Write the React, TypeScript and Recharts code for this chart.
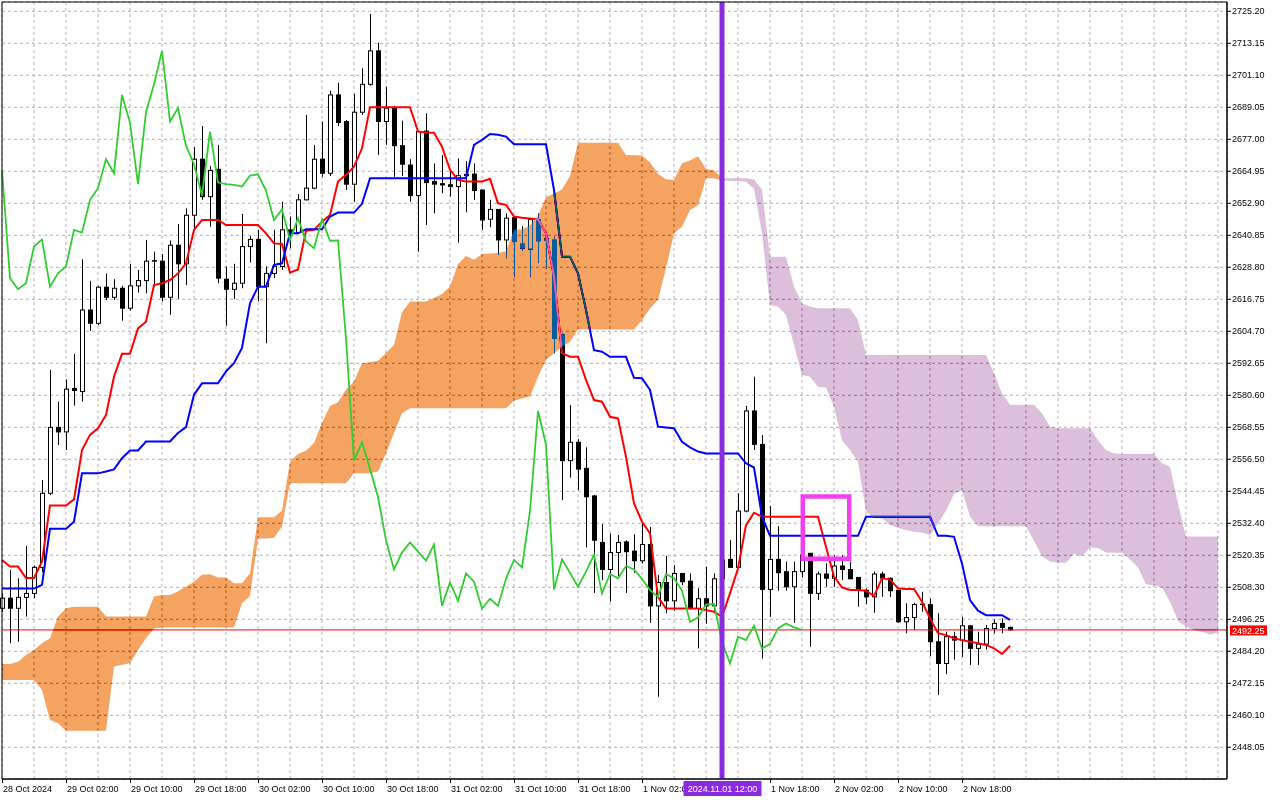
import React from 'react';
import { ComposedChart, Bar, Line, Area, XAxis, YAxis, CartesianGrid, ReferenceLine, ReferenceArea } from 'recharts';

const FONT = "'Liberation Sans', Arial, sans-serif";

const xTickIdx = [0, 8, 16, 24, 32, 40, 48, 56, 64, 72, 80, 96, 104, 112, 120];
const xTickText = ['28 Oct 2024', '29 Oct 02:00', '29 Oct 10:00', '29 Oct 18:00', '30 Oct 02:00', '30 Oct 10:00', '30 Oct 18:00', '31 Oct 02:00', '31 Oct 10:00', '31 Oct 18:00', '1 Nov 02:00', '1 Nov 18:00', '2 Nov 02:00', '2 Nov 10:00', '2 Nov 18:00'];
const gridIdx = [0, 4, 8, 12, 16, 20, 24, 28, 32, 36, 40, 44, 48, 52, 56, 60, 64, 68, 72, 76, 80, 84, 88, 90, 92, 96, 100, 104, 108, 112, 116, 120, 124, 128, 132, 136, 140, 144, 148, 152];
const yTicks = [2448.05, 2460.10, 2472.15, 2484.20, 2496.25, 2508.30, 2520.35, 2532.40, 2544.45, 2556.50, 2568.55, 2580.60, 2592.65, 2604.70, 2616.75, 2628.80, 2640.85, 2652.90, 2664.95, 2677.00, 2689.05, 2701.10, 2713.15, 2725.20];

const lastPrice = 2492.25;
const markerIdx = 90;
const markerText = '2024.11.01 12:00';
const boxIdx = [100.1, 105.9];
const boxPrice = [2519.07, 2542.45];

const openV = [2500.4, 2504.2, 2500.4, 2504.5, 2506.0, 2515.8, 2543.7, 2568.5, 2566.8, 2583.2,
  2582.0, 2612.7, 2607.7, 2621.3, 2617.5, 2620.9, 2613.4, 2621.8, 2623.8, 2631.1,
  2631.1, 2617.5, 2637.1, 2630.1, 2648.4, 2669.5, 2655.4, 2665.7, 2624.3, 2620.5,
  2622.8, 2636.6, 2639.3, 2621.5, 2626.5, 2629.1, 2642.9, 2641.9, 2654.2, 2658.6,
  2669.5, 2664.2, 2693.7, 2683.7, 2660.1, 2687.2, 2697.7, 2710.3, 2683.7, 2688.7,
  2674.6, 2667.3, 2655.8, 2680.1, 2661.1, 2660.3, 2659.9, 2659.2, 2663.3, 2663.9,
  2657.9, 2646.9, 2650.6, 2639.1, 2647.5, 2637.5, 2635.6, 2646.6, 2639.5, 2639.0,
  2603.5, 2556.0, 2562.9, 2553.1, 2542.7, 2525.2, 2515.0, 2521.4, 2525.4, 2521.9,
  2518.3, 2524.4, 2501.3, 2510.1, 2503.2, 2513.5, 2510.6, 2500.3, 2504.0, 2501.3,
  2511.5, 2518.8, 2515.8, 2537.0, 2574.7, 2562.1, 2507.5, 2518.8, 2514.2, 2508.5,
  2514.2, 2521.1, 2506.0, 2513.3, 2511.7, 2516.3, 2515.0, 2512.0, 2507.2, 2504.7,
  2513.3, 2511.7, 2507.2, 2495.3, 2496.9, 2501.8, 2501.8, 2487.8, 2479.6, 2489.7,
  2488.4, 2493.8, 2485.3, 2486.9, 2492.8, 2494.7, 2493.2];

const highV = [2506.0, 2514.8, 2511.7, 2523.9, 2516.5, 2548.7, 2590.1, 2578.2, 2586.6, 2596.2,
  2631.8, 2623.7, 2621.8, 2626.5, 2624.3, 2621.8, 2630.1, 2627.8, 2639.1, 2634.7,
  2633.8, 2638.9, 2645.1, 2651.0, 2674.0, 2682.0, 2667.0, 2674.9, 2629.1, 2630.1,
  2648.9, 2640.6, 2642.9, 2629.1, 2642.9, 2653.5, 2647.9, 2656.4, 2686.2, 2674.9,
  2683.7, 2695.3, 2698.3, 2684.3, 2694.1, 2703.7, 2724.2, 2713.4, 2696.8, 2689.6,
  2684.0, 2669.5, 2680.0, 2686.8, 2667.9, 2671.1, 2665.2, 2669.8, 2668.8, 2667.9,
  2657.9, 2654.2, 2650.6, 2649.1, 2648.0, 2644.3, 2647.0, 2649.1, 2641.5, 2640.3,
  2604.0, 2576.9, 2564.1, 2561.0, 2543.1, 2532.1, 2528.6, 2528.0, 2526.0, 2528.3,
  2532.9, 2531.0, 2512.9, 2520.2, 2516.7, 2513.5, 2513.5, 2507.9, 2516.0, 2513.5,
  2521.0, 2526.1, 2543.7, 2576.6, 2587.6, 2565.6, 2538.9, 2531.3, 2518.0, 2518.0,
  2521.0, 2521.1, 2514.2, 2517.3, 2520.4, 2520.4, 2517.9, 2512.0, 2507.9, 2514.2,
  2514.2, 2512.0, 2507.2, 2502.3, 2502.5, 2506.6, 2504.1, 2498.5, 2491.6, 2491.6,
  2497.2, 2494.1, 2491.6, 2494.1, 2496.2, 2496.6, 2493.5];

const lowV = [2499.0, 2487.2, 2487.8, 2497.3, 2504.2, 2514.0, 2543.0, 2561.9, 2560.0, 2576.7,
  2578.2, 2604.8, 2607.0, 2616.5, 2616.5, 2608.7, 2612.5, 2619.3, 2619.0, 2621.5,
  2615.9, 2610.9, 2616.9, 2622.1, 2642.9, 2654.2, 2644.1, 2622.8, 2606.8, 2616.8,
  2620.9, 2630.6, 2616.0, 2600.2, 2624.7, 2627.8, 2635.9, 2641.6, 2654.0, 2658.2,
  2662.9, 2663.2, 2682.0, 2657.9, 2653.5, 2686.2, 2697.2, 2671.1, 2674.9, 2662.9,
  2663.2, 2653.5, 2634.7, 2644.7, 2649.1, 2656.7, 2655.4, 2638.1, 2649.5, 2654.2,
  2642.9, 2643.9, 2633.4, 2632.2, 2625.3, 2635.0, 2625.3, 2630.5, 2628.4, 2596.4,
  2541.1, 2549.6, 2544.9, 2523.3, 2506.2, 2511.0, 2502.9, 2512.5, 2506.2, 2513.8,
  2517.3, 2494.9, 2467.1, 2498.5, 2499.5, 2509.1, 2500.0, 2485.3, 2494.6, 2498.5,
  2506.0, 2515.8, 2515.5, 2536.5, 2560.0, 2481.5, 2497.2, 2507.0, 2507.0, 2494.9,
  2512.0, 2485.9, 2503.5, 2508.5, 2508.5, 2511.0, 2511.5, 2501.0, 2502.0, 2498.7,
  2504.7, 2504.7, 2494.9, 2491.0, 2492.2, 2499.1, 2482.4, 2467.7, 2475.6, 2481.1,
  2482.1, 2479.0, 2479.0, 2484.9, 2491.0, 2491.0, 2492.0];

const closeV = [2504.2, 2500.4, 2504.5, 2506.0, 2515.8, 2543.7, 2568.5, 2566.8, 2582.9, 2582.4,
  2612.7, 2607.7, 2621.3, 2617.5, 2620.9, 2613.4, 2621.8, 2623.8, 2631.1, 2631.3,
  2617.5, 2637.1, 2630.1, 2648.4, 2669.5, 2655.4, 2665.3, 2624.7, 2620.5, 2622.8,
  2636.6, 2639.3, 2621.5, 2626.5, 2629.1, 2642.9, 2641.9, 2654.2, 2658.6, 2669.5,
  2664.2, 2693.7, 2683.3, 2660.1, 2687.2, 2697.7, 2710.3, 2683.7, 2688.7, 2674.6,
  2667.6, 2655.8, 2679.9, 2660.7, 2660.1, 2659.8, 2659.2, 2663.3, 2663.8, 2657.7,
  2646.6, 2650.6, 2639.1, 2647.3, 2638.5, 2636.0, 2646.8, 2638.8, 2638.9, 2602.0,
  2556.0, 2562.9, 2552.8, 2542.4, 2526.0, 2515.0, 2521.4, 2525.2, 2521.7, 2518.3,
  2524.4, 2501.3, 2510.1, 2503.2, 2513.5, 2510.4, 2500.3, 2504.0, 2501.3, 2511.5,
  2518.6, 2515.8, 2537.0, 2574.7, 2562.1, 2507.5, 2518.8, 2513.8, 2508.5, 2514.2,
  2520.5, 2506.0, 2513.3, 2511.7, 2516.3, 2515.0, 2511.5, 2507.2, 2504.7, 2513.3,
  2511.7, 2507.0, 2495.3, 2496.9, 2501.8, 2502.0, 2487.8, 2479.6, 2489.7, 2488.4,
  2493.8, 2485.3, 2486.9, 2492.8, 2494.7, 2493.2, 2492.25];

const tenkanV = [2518.6, 2516.1, 2516.1, 2511.8, 2511.8, 2518.0, 2539.1, 2539.1, 2539.1, 2541.4,
  2560.0, 2565.7, 2568.2, 2573.2, 2587.6, 2596.2, 2596.2, 2605.8, 2608.3, 2622.1,
  2622.8, 2624.0, 2626.5, 2630.3, 2642.9, 2646.6, 2646.6, 2646.6, 2644.7, 2644.7,
  2644.7, 2644.7, 2644.7, 2641.6, 2637.8, 2637.6, 2626.8, 2628.0, 2642.6, 2642.9,
  2646.0, 2648.5, 2661.1, 2663.6, 2666.7, 2673.6, 2689.1, 2689.1, 2689.1, 2689.1,
  2689.1, 2689.1, 2679.9, 2679.6, 2679.5, 2674.2, 2665.5, 2661.7, 2661.1, 2661.1,
  2661.1, 2662.1, 2652.9, 2652.3, 2647.9, 2647.5, 2647.2, 2646.9, 2641.6, 2625.3,
  2596.4, 2595.1, 2595.1, 2586.4, 2578.8, 2578.2, 2572.5, 2571.9, 2557.4, 2539.9,
  2533.0, 2528.6, 2504.7, 2500.3, 2500.3, 2500.3, 2500.3, 2500.3, 2499.7, 2499.1,
  2497.2, 2506.0, 2515.4, 2531.7, 2536.4, 2534.9, 2534.9, 2534.9, 2534.9, 2534.9,
  2534.9, 2534.9, 2534.9, 2523.6, 2512.3, 2508.3, 2507.3, 2507.3, 2507.0, 2505.0,
  2511.7, 2511.3, 2507.9, 2507.7, 2507.7, 2502.9, 2496.6, 2491.0, 2490.3, 2489.1,
  2488.4, 2487.8, 2487.2, 2486.6, 2485.3, 2483.2, 2486.3];

const kijunV = [2507.8, 2507.8, 2507.8, 2507.8, 2507.8, 2509.2, 2530.3, 2530.3, 2530.3, 2533.0,
  2551.2, 2551.2, 2551.2, 2551.9, 2552.7, 2556.9, 2559.8, 2559.8, 2563.2, 2563.2,
  2563.2, 2563.2, 2566.4, 2568.6, 2580.8, 2585.1, 2585.1, 2585.1, 2589.6, 2592.7,
  2598.4, 2615.2, 2621.5, 2621.5, 2629.7, 2630.3, 2641.6, 2641.6, 2643.1, 2643.1,
  2643.1, 2647.9, 2649.4, 2649.4, 2649.4, 2652.7, 2662.3, 2662.3, 2662.3, 2662.3,
  2662.3, 2662.3, 2662.3, 2662.3, 2662.3, 2662.3, 2662.3, 2662.3, 2662.3, 2674.9,
  2676.8, 2679.0, 2678.7, 2678.0, 2675.1, 2675.1, 2675.1, 2675.1, 2675.1, 2657.9,
  2632.8, 2632.8, 2626.5, 2612.7, 2597.6, 2597.0, 2595.1, 2595.1, 2595.1, 2587.2,
  2587.0, 2582.6, 2568.8, 2568.5, 2568.2, 2563.1, 2561.0, 2559.4, 2558.7, 2558.7,
  2558.7, 2558.7, 2558.7, 2555.0, 2553.4, 2534.9, 2527.7, 2527.7, 2527.7, 2527.7,
  2527.7, 2527.7, 2527.7, 2527.7, 2527.7, 2527.7, 2527.7, 2527.7, 2534.9, 2534.9,
  2534.9, 2534.9, 2534.9, 2534.9, 2534.9, 2534.9, 2534.9, 2527.7, 2527.7, 2527.3,
  2517.3, 2503.5, 2499.5, 2497.8, 2497.8, 2497.8, 2496.0];

const chikouV = [2665.3, 2624.7, 2620.5, 2622.8, 2636.6, 2639.3, 2621.5, 2626.5, 2629.1, 2642.9,
  2641.9, 2654.2, 2658.6, 2669.5, 2664.2, 2693.7, 2683.3, 2660.1, 2687.2, 2697.7,
  2710.3, 2683.7, 2688.7, 2674.6, 2667.6, 2655.8, 2679.9, 2660.7, 2660.1, 2659.8,
  2659.2, 2663.3, 2663.8, 2657.7, 2646.6, 2650.6, 2639.1, 2647.3, 2638.5, 2636.0,
  2646.8, 2638.8, 2638.9, 2602.0, 2556.0, 2562.9, 2552.8, 2542.4, 2526.0, 2515.0,
  2521.4, 2525.2, 2521.7, 2518.3, 2524.4, 2501.3, 2510.1, 2503.2, 2513.5, 2510.4,
  2500.3, 2504.0, 2501.3, 2511.5, 2518.6, 2515.8, 2537.0, 2574.7, 2562.1, 2507.5,
  2518.8, 2513.8, 2508.5, 2514.2, 2520.5, 2506.0, 2513.3, 2511.7, 2516.3, 2515.0,
  2511.5, 2507.2, 2504.7, 2513.3, 2511.7, 2507.0, 2495.3, 2496.9, 2501.8, 2502.0,
  2487.8, 2479.6, 2489.7, 2488.4, 2493.8, 2485.3, 2486.9, 2492.8, 2494.7, 2493.2, 2492.25];

const spanAV = [2479.4, 2479.4, 2480.3, 2482.8, 2484.7, 2487.2, 2489.1, 2497.3, 2500.4, 2501.0,
  2501.0, 2501.0, 2501.0, 2497.3, 2497.3, 2497.3, 2497.3, 2497.3, 2497.3, 2504.8,
  2505.4, 2505.4, 2506.7, 2508.6, 2510.4, 2513.0, 2513.2, 2512.0, 2512.0, 2509.8,
  2509.8, 2513.6, 2534.7, 2534.7, 2534.7, 2537.2, 2555.6, 2558.5, 2559.7, 2562.6,
  2570.2, 2576.6, 2578.0, 2582.8, 2585.8, 2592.7, 2593.0, 2593.6, 2596.5, 2599.5,
  2611.9, 2615.9, 2615.9, 2615.9, 2617.2, 2618.7, 2621.6, 2630.0, 2633.1, 2631.6,
  2633.8, 2634.0, 2634.2, 2634.8, 2642.9, 2643.0, 2644.6, 2648.2, 2655.3, 2656.5,
  2658.1, 2663.2, 2675.7, 2675.7, 2675.7, 2675.7, 2675.7, 2675.7, 2671.1, 2671.0,
  2670.9, 2668.3, 2663.9, 2662.0, 2661.7, 2668.0, 2669.0, 2670.6, 2665.8, 2665.3,
  2661.5, 2661.3, 2661.2, 2661.0, 2658.4, 2641.6, 2614.6, 2614.0, 2610.8, 2599.6,
  2588.2, 2587.6, 2583.8, 2583.5, 2576.3, 2563.6, 2560.0, 2555.6, 2536.8, 2534.4,
  2534.3, 2531.7, 2530.7, 2529.9, 2529.2, 2528.9, 2528.0, 2532.4, 2537.1, 2543.4,
  2544.9, 2534.9, 2531.3, 2531.3, 2531.3, 2531.3, 2531.3, 2531.3, 2531.3, 2525.7,
  2520.0, 2518.0, 2517.5, 2517.5, 2521.0, 2520.0, 2523.3, 2523.1, 2521.4, 2521.3,
  2521.3, 2518.9, 2515.8, 2509.4, 2509.0, 2508.2, 2502.9, 2495.7, 2493.4, 2492.2,
  2491.6, 2490.5, 2491.2];

const spanBV = [2473.4, 2473.4, 2473.4, 2473.4, 2473.4, 2469.6, 2458.3, 2457.1, 2454.3, 2454.3,
  2454.3, 2454.3, 2454.3, 2454.3, 2478.4, 2479.1, 2479.7, 2484.7, 2489.1, 2492.8,
  2493.2, 2493.2, 2493.2, 2493.2, 2493.2, 2493.2, 2493.2, 2493.2, 2493.2, 2493.2,
  2502.3, 2505.0, 2526.7, 2526.7, 2527.0, 2531.1, 2547.5, 2547.5, 2547.5, 2547.5,
  2547.5, 2547.5, 2547.5, 2547.5, 2551.2, 2551.2, 2551.2, 2551.9, 2558.8, 2566.3,
  2573.8, 2575.7, 2575.7, 2575.7, 2575.7, 2575.7, 2575.7, 2575.7, 2575.7, 2575.7,
  2575.7, 2575.7, 2575.7, 2575.7, 2578.5, 2579.4, 2580.1, 2587.6, 2593.9, 2596.4,
  2598.9, 2600.8, 2605.4, 2605.4, 2605.4, 2605.4, 2605.4, 2605.4, 2605.4, 2605.4,
  2608.9, 2613.3, 2616.5, 2628.4, 2641.6, 2644.1, 2650.4, 2652.2, 2662.3, 2662.3,
  2662.3, 2662.3, 2662.3, 2662.3, 2661.9, 2658.0, 2632.8, 2632.8, 2632.8, 2621.5,
  2615.2, 2614.0, 2613.4, 2613.4, 2613.4, 2613.4, 2613.4, 2609.0, 2595.8, 2595.8,
  2595.8, 2595.8, 2595.8, 2595.8, 2595.8, 2595.8, 2595.8, 2595.8, 2595.8, 2595.8,
  2595.8, 2595.8, 2595.8, 2595.8, 2588.9, 2581.4, 2577.0, 2577.0, 2577.0, 2577.0,
  2573.8, 2568.8, 2568.2, 2568.2, 2568.2, 2568.2, 2568.2, 2563.7, 2560.0, 2558.7,
  2558.5, 2558.5, 2558.5, 2558.5, 2558.5, 2555.0, 2553.7, 2539.9, 2527.4, 2527.4,
  2527.4, 2527.4, 2527.4];

const rows: any[] = spanAV.map((a, i) => {
  const b = spanBV[i];
  const r: any = { i };
  if (i < closeV.length) {
    r.range = [lowV[i], highV[i]];
    r.o = openV[i]; r.h = highV[i]; r.l = lowV[i]; r.c = closeV[i];
    r.tenkan = tenkanV[i];
    r.kijun = kijunV[i];
  }
  if (i < chikouV.length) r.chikou = chikouV[i];
  if (i <= 90) r.bull = [Math.min(a, b), Math.max(a, b)];
  if (i >= 90) r.bear = [Math.min(a, b), Math.max(a, b)];
  return r;
});

const Y_MIN = 2436.11;
const Y_MAX = 2728.70;
const X_MAX = 153.125;

const Candle = (p: any) => {
  const { x, y, width, height, payload } = p;
  if (!payload || payload.o == null || x == null) return null;
  const cx = Math.round(x + width / 2) + 0.5;
  const { o, h, l, c } = payload;
  const span = h - l;
  const py = (v: number) => (span > 0 ? y + ((h - v) / span) * height : y);
  const top = py(Math.max(o, c));
  const bot = py(Math.min(o, c));
  const up = c >= o;
  return (
    <g>
      <line x1={cx} x2={cx} y1={y} y2={y + height} stroke="#000" strokeWidth={1} />
      {up ? (
        <rect x={cx - 2} y={top} width={4} height={Math.max(bot - top, 0.5)} fill="#fff" stroke="#000" strokeWidth={1} />
      ) : (
        <rect x={cx - 2.5} y={top - 0.5} width={5} height={Math.max(bot - top, 0) + 1} fill="#000" />
      )}
    </g>
  );
};

const XTick = (p: any) => {
  const { x, y, payload } = p;
  const px = Math.round(x) + 0.5;
  if (payload.value === markerIdx) {
    return (
      <g>
        <rect x={px - 39} y={y + 2} width={78} height={15} fill="#8a2be2" />
        <text x={px} y={y + 13} fontSize={9} fontFamily={FONT} fill="#fff" textAnchor="middle">
          {markerText}
        </text>
      </g>
    );
  }
  const k = xTickIdx.indexOf(payload.value);
  if (k < 0) return null;
  return (
    <g>
      <line x1={px} x2={px} y1={y} y2={y + 4} stroke="#000" strokeWidth={1} />
      <text x={px + 0.5} y={y + 13} fontSize={9} fontFamily={FONT} fill="#000" textAnchor="start">
        {xTickText[k]}
      </text>
    </g>
  );
};

const PriceTag = (p: any) => {
  const vb = p.viewBox || {};
  const x0 = (vb.x || 0) + (vb.width || 0) + 3;
  const y0 = vb.y || 0;
  return (
    <g>
      <rect x={x0} y={y0 - 4.5} width={37} height={10} fill="#ff0000" />
      <text x={x0 + 2} y={y0 + 3.8} fontSize={9} fontFamily={FONT} fill="#fff">
        {lastPrice.toFixed(2)}
      </text>
    </g>
  );
};

export default function App() {
  return (
    <div style={{ position: 'absolute', left: 0, top: 0, width: 1280, height: 800, background: '#fff' }}>
      <style>{'.cloud-layer path { mix-blend-mode: difference; }'}</style>
      <ComposedChart width={1280} height={800} data={rows} margin={{ top: 2, right: 0, bottom: 0, left: 2 }}>
        <CartesianGrid stroke="#bcaebc" strokeDasharray="3 3" fill="#ffffff" fillOpacity={1} />
        <XAxis
          dataKey="i"
          type="number"
          domain={[0, X_MAX]}
          ticks={gridIdx}
          interval={0}
          height={21}
          tickSize={0}
          tickMargin={0}
          tickLine={false}
          axisLine={{ stroke: '#000' }}
          tick={<XTick />}
        />
        <YAxis
          orientation="right"
          type="number"
          domain={[Y_MIN, Y_MAX]}
          ticks={yTicks}
          interval={0}
          width={53}
          tickSize={4}
          tickMargin={1}
          tickLine={{ stroke: '#000' }}
          axisLine={{ stroke: '#000' }}
          tick={{ fontSize: 9, fontFamily: FONT, fill: '#000' }}
          tickFormatter={(v: number) => v.toFixed(2)}
        />
        <Bar dataKey="range" shape={<Candle />} barSize={5} isAnimationActive={false} zIndex={100} />
        <Line dataKey="tenkan" type="linear" stroke="#ff0000" strokeWidth={2} dot={false} activeDot={false} isAnimationActive={false} zIndex={110} />
        <Line dataKey="kijun" type="linear" stroke="#0000ff" strokeWidth={2} dot={false} activeDot={false} isAnimationActive={false} zIndex={110} />
        <ReferenceLine y={lastPrice} stroke="#ff0000" strokeWidth={1} label={<PriceTag />} zIndex={120} />
        <Area dataKey="bull" type="linear" className="cloud-layer" fill="#0b5b9f" fillOpacity={1} stroke="none" dot={false} activeDot={false} isAnimationActive={false} zIndex={130} />
        <Area dataKey="bear" type="linear" className="cloud-layer" fill="#244024" fillOpacity={1} stroke="none" dot={false} activeDot={false} isAnimationActive={false} zIndex={130} />
        <Line dataKey="chikou" type="linear" stroke="#32cd32" strokeWidth={1.8} dot={false} activeDot={false} isAnimationActive={false} zIndex={140} />
        <ReferenceLine x={markerIdx} stroke="#8a2be2" strokeWidth={5} zIndex={600} />
        <ReferenceArea x1={boxIdx[0]} x2={boxIdx[1]} y1={boxPrice[0]} y2={boxPrice[1]} fill="none" fillOpacity={0} stroke="#f040f0" strokeWidth={4.5} ifOverflow="visible" zIndex={610} />
        <ReferenceArea x1={0} x2={X_MAX} y1={Y_MIN} y2={Y_MAX} fill="none" fillOpacity={0} stroke="#000" strokeWidth={1} ifOverflow="visible" zIndex={620} />
      </ComposedChart>
    </div>
  );
}
